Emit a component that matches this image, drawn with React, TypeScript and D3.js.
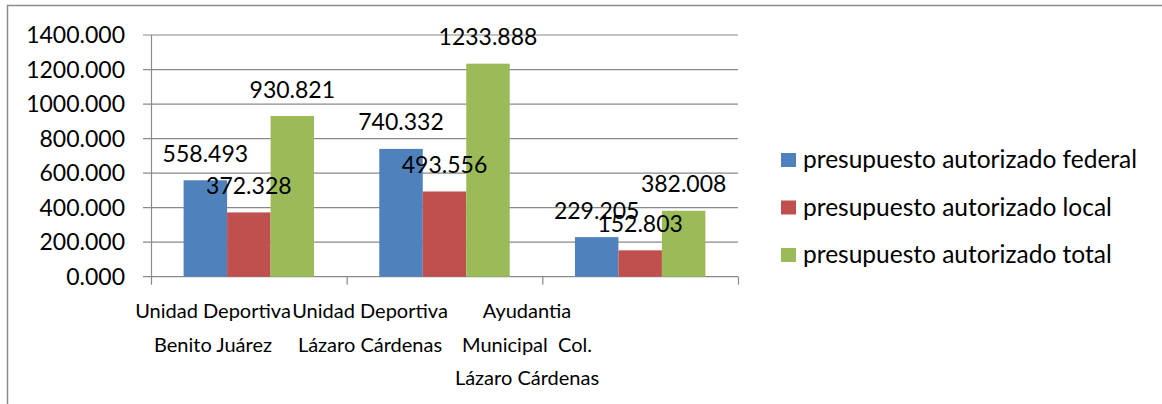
import React from "react";
import * as d3 from "d3";

const categories: string[][] = [
  ["Unidad Deportiva", "Benito Juárez"],
  ["Unidad Deportiva", "Lázaro Cárdenas"],
  ["Ayudantia", "Municipal  Col.", "Lázaro Cárdenas"],
];
const seriesNames = [
  "presupuesto autorizado federal",
  "presupuesto autorizado local",
  "presupuesto autorizado total",
];
const federal = [558.493, 740.332, 229.205];
const local = [372.328, 493.556, 152.803];
const total = [930.821, 1233.888, 382.008];
const yTicks = [0, 200, 400, 600, 800, 1000, 1200, 1400];
const colors = ["#4F81BD", "#C0504D", "#9BBB59"];

const W = 1162;
const H = 404;
const FONT = "Lato, 'Open Sans', sans-serif";

export default function App() {
  const series = [federal, local, total];
  const catIdx = categories.map((_, i) => String(i));
  const x = d3.scaleBand<string>().domain(catIdx).range([151, 738]).paddingInner(0).paddingOuter(0);
  // Excel gap width 150%: outer gap per side = 0.75 bar width
  const barW = x.bandwidth() / (3 + 1.5);
  const groupOff = 0.75 * barW;
  const y = d3.scaleLinear().domain([0, 1400]).range([276.7, 35]);
  const labelX = d3.scalePoint<string>().domain(catIdx).range([213, 527]);
  const fmt = d3.format(".3f");

  return (
    <svg
      width={W}
      height={H}
      style={{ position: "absolute", left: 0, top: 0, background: "#fff" }}
      fontFamily={FONT}
    >
      <rect x={7.5} y={5.5} width={W + 20} height={H + 20} fill="none" stroke="#8c8c8c" strokeWidth={1.5} />
      {yTicks.map((t) => (
        <line key={"g" + t} x1={143} x2={738} y1={y(t)} y2={y(t)} stroke="#8a8a8a" strokeWidth={1.2} />
      ))}
      <line x1={151.5} x2={151.5} y1={y(1400)} y2={y(0)} stroke="#8a8a8a" strokeWidth={1.2} />
      {[...catIdx.map((c) => x(c)!), 738].map((v, i) => (
        <line key={"ct" + i} x1={v + 0.5} x2={v + 0.5} y1={y(0)} y2={y(0) + 8} stroke="#8a8a8a" strokeWidth={1.2} />
      ))}
      {yTicks.map((t) => (
        <text key={"yl" + t} x={125} y={y(t)} dy="0.36em" textAnchor="end" fontSize={23} fill="#000">
          {fmt(t)}
        </text>
      ))}
      {series.map((vals, s) =>
        vals.map((v, i) => {
          const bx = x(String(i))! + groupOff + s * barW;
          return (
            <rect key={`b${s}-${i}`} x={bx} y={y(v)} width={barW} height={y(0) - y(v)} fill={colors[s]} />
          );
        })
      )}
      {series.map((vals, s) =>
        vals.map((v, i) => {
          const bx = x(String(i))! + groupOff + s * barW + barW / 2;
          return (
            <text key={`l${s}-${i}`} x={bx} y={y(v) - 18.5} textAnchor="middle" fontSize={23} fill="#000">
              {fmt(v)}
            </text>
          );
        })
      )}
      {categories.map((lines, i) => (
        <text key={"c" + i} textAnchor="middle" fontSize={20} fill="#000" style={{ whiteSpace: "pre" }}>
          {lines.map((ln, k) => (
            <tspan key={k} x={labelX(String(i))} y={318 + k * 33.7}>
              {ln}
            </tspan>
          ))}
        </text>
      ))}
      {seriesNames.map((n, s) => (
        <g key={"lg" + s} transform={`translate(781, ${160 + s * 47.5})`}>
          <rect x={0} y={-7} width={15} height={14} fill={colors[s]} />
          <text x={22} y={0} dy="0.33em" fontSize={24.5} fill="#000">
            {n}
          </text>
        </g>
      ))}
    </svg>
  );
}
